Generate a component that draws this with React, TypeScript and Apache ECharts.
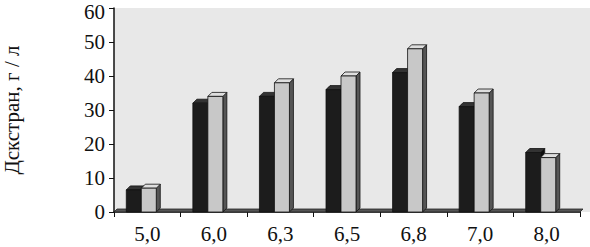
import React, { useEffect, useRef } from "react";
import * as echarts from "echarts";

const categories = ["5,0", "6,0", "6,3", "6,5", "6,8", "7,0", "8,0"];
const seriesBlack = [6.5, 32, 34, 36, 41, 31, 17.5];
const seriesGray = [7, 34, 38, 40, 48, 35, 16];
const yTicks = [0, 10, 20, 30, 40, 50, 60];

const FONT = "'Liberation Serif', 'Times New Roman', serif";

function bar3d(offset: number, front: string, top: string, side: string) {
  return (params: any, api: any) => {
    const idx = api.value(0);
    const val = api.value(1);
    const p = api.coord([idx, val]);
    const base = api.coord([idx, 0]);
    const w = 15;
    const d = 4;
    const x0 = p[0] + offset;
    const x1 = x0 + w;
    const yTop = p[1];
    const yBot = base[1];
    return {
      type: "group",
      children: [
        {
          type: "polygon",
          shape: { points: [[x1, yTop], [x1 + d, yTop - d], [x1 + d, yBot - d], [x1, yBot]] },
          style: { fill: side, stroke: "#111", lineWidth: 0.8 },
        },
        {
          type: "polygon",
          shape: { points: [[x0, yTop], [x0 + d, yTop - d], [x1 + d, yTop - d], [x1, yTop]] },
          style: { fill: top, stroke: "#111", lineWidth: 0.8 },
        },
        {
          type: "rect",
          shape: { x: x0, y: yTop, width: w, height: yBot - yTop },
          style: { fill: front, stroke: "#111", lineWidth: 0.8 },
        },
      ],
    };
  };
}

export default function App() {
  const ref = useRef<HTMLDivElement>(null);
  useEffect(() => {
    if (!ref.current) return;
    const chart = echarts.init(ref.current, undefined, { renderer: "svg" });
    const maxTick = yTicks[yTicks.length - 1];
    chart.setOption({
      animation: false,
      backgroundColor: "#ffffff",
      graphic: [
        {
          type: "rect",
          right: 0,
          top: 8,
          z: -10,
          shape: { width: 12, height: 204 },
          style: { fill: "#e8e8e8" },
        },
      ],
      grid: {
        left: 114,
        right: 10,
        top: 8,
        bottom: 35,
        show: true,
        backgroundColor: "#e8e8e8",
        borderWidth: 0,
        containLabel: false,
        outerBoundsMode: "none",
      },
      xAxis: {
        type: "category",
        data: categories,
        axisLine: { show: true, lineStyle: { color: "#111", width: 1.5 } },
        axisTick: { show: true, alignWithLabel: false, length: 5, lineStyle: { color: "#111" } },
        axisLabel: { color: "#111", fontFamily: FONT, fontSize: 21, margin: 11 },
        splitLine: { show: false },
      },
      yAxis: {
        type: "value",
        min: 0,
        max: 60,
        interval: 10,
        name: "Дскстран, г / л",
        nameLocation: "middle",
        nameGap: 92,
        nameRotate: 90,
        nameTextStyle: { color: "#111", fontFamily: FONT, fontSize: 21 },
        axisLine: { show: true, lineStyle: { color: "#111", width: 1.5 } },
        axisTick: { show: true, length: 5, lineStyle: { color: "#111" } },
        axisLabel: {
          color: "#111",
          fontFamily: FONT,
          fontSize: 21,
          margin: 9,
          formatter: (v: number) =>
            yTicks.includes(v) ? (v === maxTick ? "{t|" + v + "}" : String(v)) : "",
          rich: {
            t: {
              color: "#111",
              fontFamily: FONT,
              fontSize: 21,
              padding: [8, 0, 0, 0],
            },
          },
        },
        splitLine: { show: false },
      },
      series: [
        {
          type: "custom",
          name: "floor",
          data: [[0, 0]],
          z: 1,
          renderItem: (params: any, api: any) => {
            const cs = params.coordSys;
            const yb = cs.y + cs.height;
            return {
              type: "polygon",
              shape: {
                points: [
                  [cs.x, yb],
                  [cs.x + 3, yb - 3],
                  [cs.x + cs.width + 3, yb - 3],
                  [cs.x + cs.width, yb],
                ],
              },
              style: { fill: "#555", stroke: "#222", lineWidth: 0.8 },
            };
          },
        },
        {
          type: "custom",
          name: "black",
          data: seriesBlack.map((v, i) => [i, v]),
          z: 3,
          renderItem: bar3d(-21, "#1c1c1c", "#333", "#0d0d0d"),
        },
        {
          type: "custom",
          name: "gray",
          data: seriesGray.map((v, i) => [i, v]),
          z: 4,
          renderItem: bar3d(-6, "#c8c8c8", "#dedede", "#555"),
        },
      ],
    });
    return () => chart.dispose();
  }, []);
  return (
    <div
      ref={ref}
      style={{ position: "absolute", left: 0, top: 0, width: 590, height: 247 }}
    />
  );
}
